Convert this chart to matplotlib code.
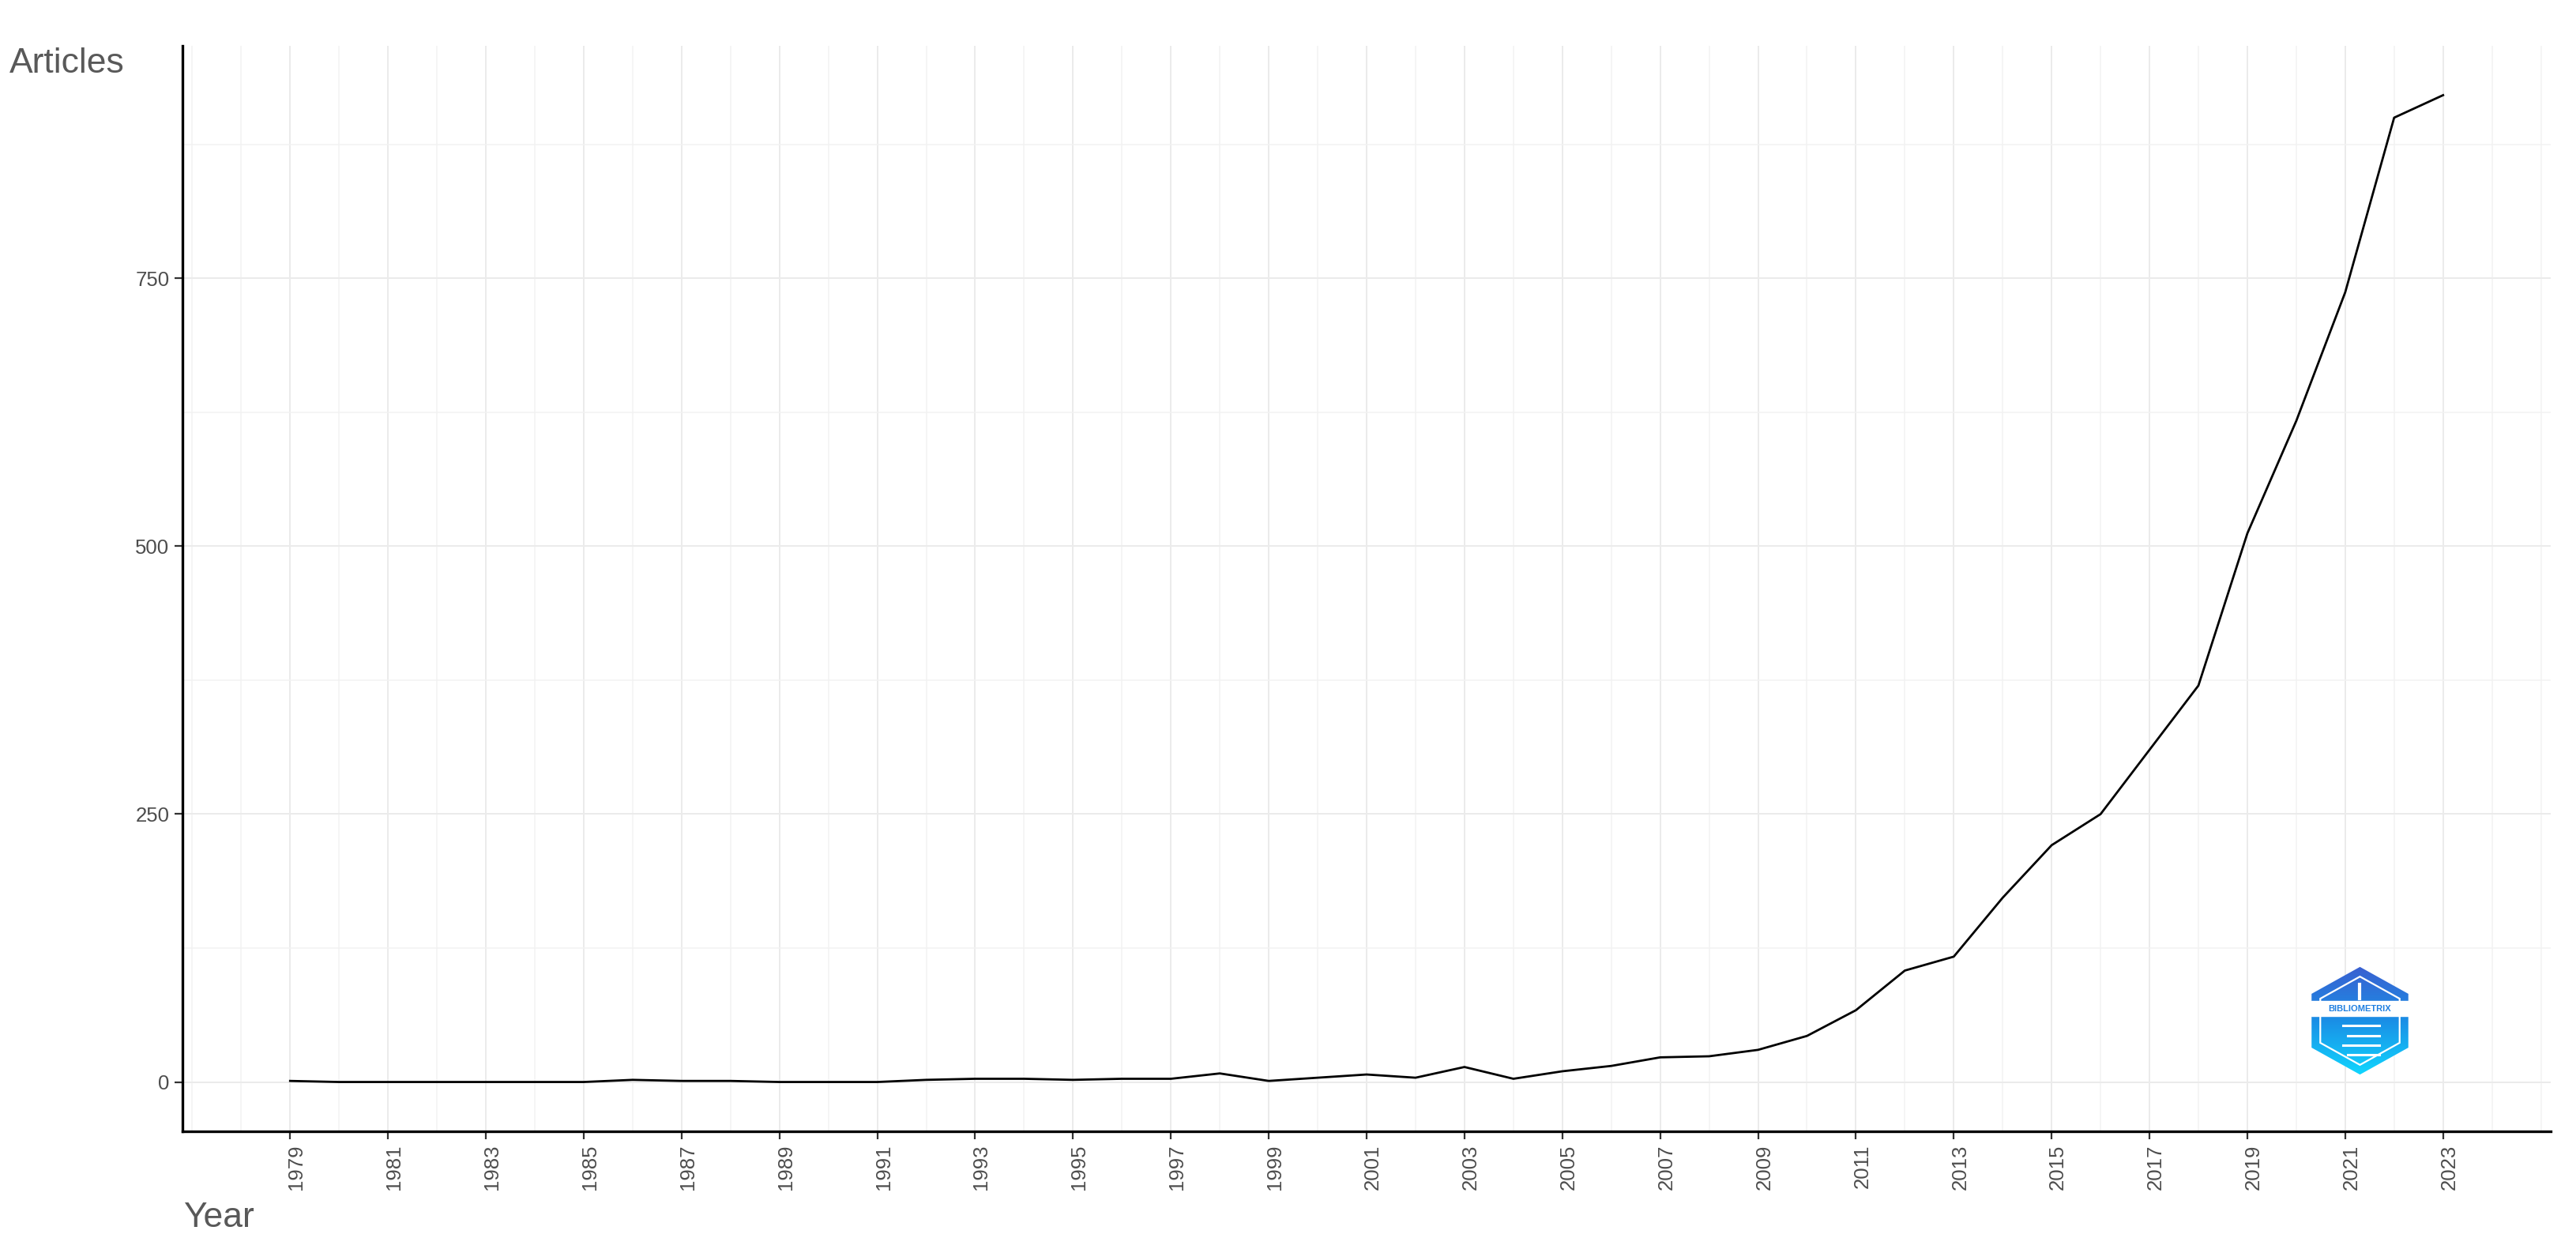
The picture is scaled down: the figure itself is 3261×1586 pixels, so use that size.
import numpy as np
import matplotlib
matplotlib.use('Agg')
import matplotlib.pyplot as plt
from matplotlib.patches import Polygon
from matplotlib.transforms import ScaledTranslation

# 年別の論文数
years = list(range(1979, 2024))
articles = [1, 0, 0, 0, 0, 0, 0, 2, 1, 1, 0, 0, 0, 2, 3, 3, 2, 3, 3, 8,
            1, 4, 7, 4, 14, 3, 10, 15, 23, 24, 30, 43, 67, 104, 117, 172,
            221, 250, 310, 370, 512, 617, 737, 900, 921]
xtick_years = list(range(1979, 2024, 2))
ytick_values = [0, 250, 500, 750]
y_minor_values = [125, 375, 625, 875]
x_minor_years = list(range(1977, 2026))

plt.rcParams['font.family'] = ['Liberation Sans', 'DejaVu Sans']

W, H, DPI = 3262, 1586, 100
fig = plt.figure(figsize=(W / DPI, H / DPI), dpi=DPI)
ax = fig.add_axes([231 / W, 1 - 1432 / H, (3229 - 231) / W, (1432 - 58) / H])

ax.plot(years, articles, color='black', lw=2.0, zorder=3)

# 軸範囲 (ggplotの5%拡張)
span = years[-1] - years[0]
ax.set_xlim(years[0] - 0.05 * span, years[-1] + 0.05 * span)
ax.set_ylim(-0.05 * max(articles), 1.05 * max(articles))

ax.set_xticks(xtick_years)
ax.set_xticklabels([str(y) for y in xtick_years], rotation=90)
ax.set_xticks(x_minor_years, minor=True)
ax.set_yticks(ytick_values)
ax.set_yticklabels([str(v) for v in ytick_values])
ax.set_yticks(y_minor_values, minor=True)

ax.grid(which='major', color='#EBEBEB', lw=1.4, zorder=0)
ax.grid(which='minor', color='#F2F2F2', lw=1.1, zorder=0)
ax.set_axisbelow(True)

for side in ['top', 'right']:
    ax.spines[side].set_visible(False)
for side in ['left', 'bottom']:
    ax.spines[side].set_linewidth(2.4)
    ax.spines[side].set_color('black')

ax.tick_params(which='major', length=7, width=1.6, color='#333333',
               labelsize=18.5, labelcolor='#4D4D4D', pad=5)
ax.tick_params(which='minor', length=0)

# 回転ラベルを少し右へ
offset = ScaledTranslation(8 / DPI, 0, fig.dpi_scale_trans)
for lbl in ax.get_xticklabels():
    lbl.set_transform(lbl.get_transform() + offset)

fig.text(12 / W, 1 - 92 / H, 'Articles', fontsize=32, color='#595959',
         ha='left', va='baseline')
fig.text(232 / W, 1 - 1553 / H, 'Year', fontsize=32, color='#595959',
         ha='left', va='baseline')

# ロゴ (BIBLIOMETRIX)
lax = fig.add_axes([2925 / W, 1 - 1362 / H, 125 / W, 140 / H])
lax.set_xlim(-1, 1)
lax.set_ylim(-1.13, 1.13)
lax.axis('off')

ang = np.deg2rad(np.arange(90, 450, 60))
hx, hy = 0.98 * np.cos(ang) / 0.866, 1.1 * np.sin(ang)
outer = Polygon(np.column_stack([hx, hy]), closed=True, facecolor='none',
                edgecolor='none')
lax.add_patch(outer)
grad = np.linspace(0, 1, 256).reshape(-1, 1)
cmap = matplotlib.colors.LinearSegmentedColormap.from_list(
    'logo', ['#10d8ff', '#1a8fe6', '#3b5fd0'])
img = lax.imshow(grad, cmap=cmap, extent=[-1, 1, -1.13, 1.13],
                 origin='lower', aspect='auto', zorder=1)
img.set_clip_path(outer)

inner = Polygon(np.column_stack([0.82 * hx, 0.82 * hy]), closed=True,
                facecolor='none', edgecolor='white', lw=1.6, zorder=2)
lax.add_patch(inner)
lax.fill_between([-0.98, 0.98], 0.1, 0.4, color='white', zorder=3)
lax.text(0, 0.25, 'BIBLIOMETRIX', ha='center', va='center', fontsize=8,
         fontweight='bold', color='#1f7fe0', zorder=4)
for i, yy in enumerate([-0.1, -0.3, -0.5, -0.7]):
    lax.plot([-0.35 + 0.1 * (i % 2), 0.4], [yy, yy], color='white', lw=2.2,
             zorder=4)
lax.plot([0, 0], [0.45, 0.75], color='white', lw=3, zorder=4)

fig.savefig('out.png', dpi=DPI)
